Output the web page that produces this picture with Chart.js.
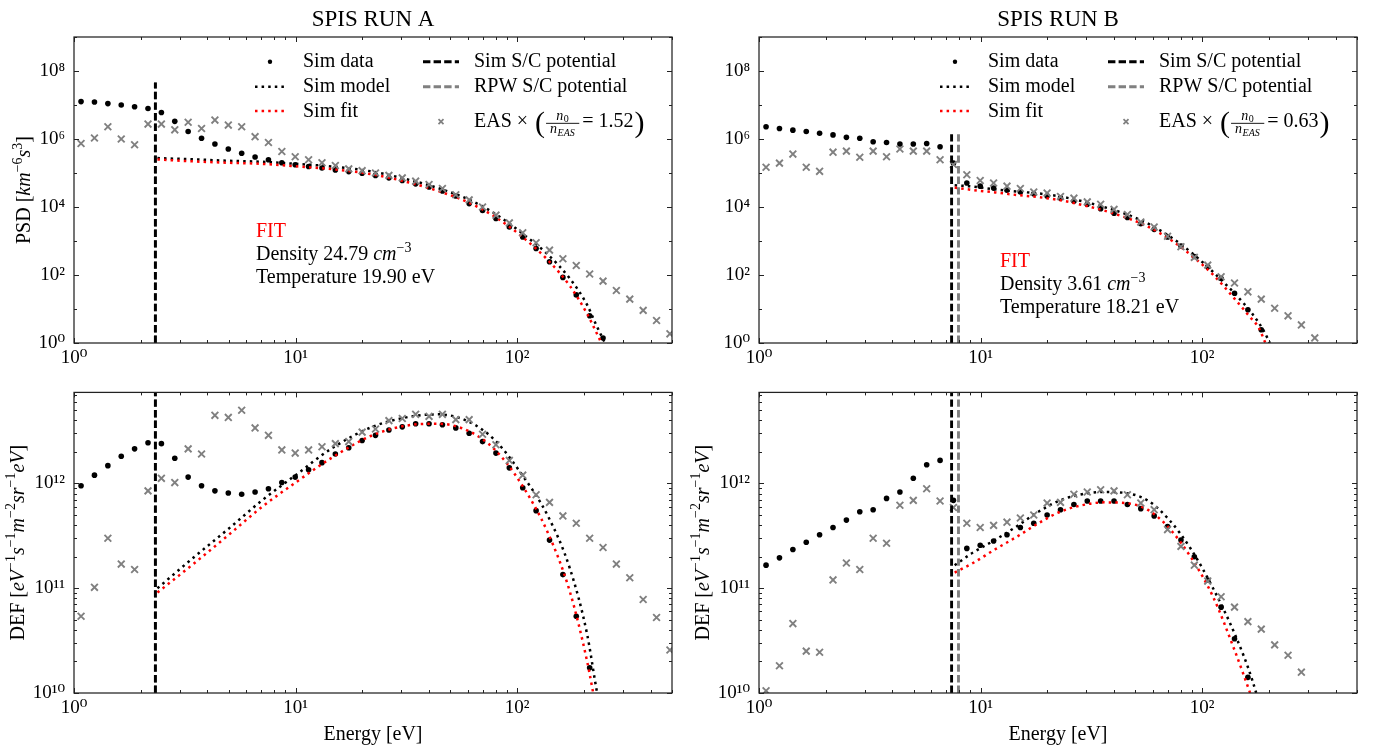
<!DOCTYPE html>
<html>
<head>
<meta charset="utf-8">
<title>SPIS runs</title>
<script src="https://cdn.jsdelivr.net/npm/chart.js@4.4.1/dist/chart.umd.min.js"></script>
<style>
  html, body { margin: 0; padding: 0; background: #fff; }
  #wrap { position: relative; width: 1374px; height: 747px; }
  canvas { position: absolute; }
</style>
</head>
<body>
<div id="wrap">
  <canvas id="aTop" width="690" height="372" style="left:0px;top:0px"></canvas>
  <canvas id="aBot" width="690" height="375" style="left:0px;top:372px"></canvas>
  <canvas id="bTop" width="684" height="372" style="left:690px;top:0px"></canvas>
  <canvas id="bBot" width="684" height="375" style="left:690px;top:372px"></canvas>
</div>
<script>
// energy bins [eV] shared by sim data and EAS
const energy = [1.076, 1.237, 1.422, 1.634, 1.877, 2.158, 2.480, 2.850, 3.275, 3.764,
  4.325, 4.971, 5.712, 6.565, 7.544, 8.670, 9.963, 11.45, 13.16, 15.12,
  17.38, 19.97, 22.95, 26.38, 30.31, 34.83, 40.03, 46.00, 52.87, 60.75,
  69.82, 80.24, 92.22, 106.0, 121.8, 140.0, 160.9, 184.9, 212.5, 244.2,
  280.5, 322.4, 370.6, 425.8, 489.4];

// ---- run A ----
const simPsdA = [1.26e7, 1.23e7, 1.10e7, 1.00e7, 8.9e6, 7.9e6, 6.0e6, 3.3e6, 1.66e6, 1.05e6,
  7.1e5, 5.1e5, 3.8e5, 2.95e5, 2.45e5, 2.0e5, 1.74e5, 1.55e5, 1.41e5, 1.23e5,
  1.10e5, 9.8e4, 8.5e4, 7.2e4, 6.0e4, 4.8e4, 3.9e4, 2.95e4, 2.1e4, 1.26e4,
  7.9e3, 4.6e3, 2.6e3, 1.32e3, 600, 245, 85, 26, 6.3, 1.4];
const simDefA = [9.5e11, 1.20e12, 1.48e12, 1.82e12, 2.14e12, 2.45e12, 2.40e12, 1.74e12, 1.15e12, 9.5e11,
  8.5e11, 8.1e11, 7.9e11, 8.3e11, 8.9e11, 1.02e12, 1.15e12, 1.35e12, 1.58e12, 1.91e12,
  2.19e12, 2.57e12, 2.88e12, 3.24e12, 3.47e12, 3.72e12, 3.72e12, 3.63e12, 3.39e12, 3.02e12,
  2.51e12, 1.95e12, 1.41e12, 9.1e11, 5.5e11, 2.88e11, 1.35e11, 5.4e10, 1.74e10];
const easPsdA = [7.4e5, 1.07e6, 2.3e6, 1.0e6, 6.8e5, 2.75e6, 2.75e6, 1.86e6, 3.1e6, 2.04e6,
  3.6e6, 2.57e6, 2.3e6, 1.17e6, 7.9e5, 4.3e5, 3.0e5, 2.45e5, 2.0e5, 1.66e5,
  1.32e5, 1.17e5, 1.0e5, 8.5e4, 7.2e4, 5.75e4, 4.6e4, 3.5e4, 2.3e4, 1.62e4,
  1.0e4, 5.75e3, 3.4e3, 1.74e3, 890, 540, 300, 190, 107, 66,
  35, 19.5, 9.1, 4.6, 1.86];
const easDefA = [5.4e10, 1.02e11, 3.0e11, 1.70e11, 1.51e11, 8.5e11, 1.12e12, 1.02e12, 2.14e12, 1.91e12,
  4.47e12, 4.27e12, 5.0e12, 3.39e12, 2.88e12, 2.09e12, 1.95e12, 2.09e12, 2.24e12, 2.40e12,
  2.51e12, 3.09e12, 3.31e12, 3.98e12, 4.17e12, 4.57e12, 4.37e12, 4.57e12, 4.07e12, 4.07e12,
  2.95e12, 2.34e12, 1.66e12, 1.20e12, 7.8e11, 6.6e11, 4.9e11, 4.17e11, 3.0e11, 2.45e11,
  1.70e11, 1.26e11, 7.8e10, 5.25e10, 2.57e10];
const modelEA = [2.38, 3.5, 5.0, 7.0, 10, 14.7, 22.2, 33.5, 44, 60.5, 79.6, 104.7, 137.6, 172.9, 207, 227, 249];
const modelPsdA = [2.75e5, 2.51e5, 2.29e5, 2.14e5, 1.86e5, 1.55e5, 1.10e5, 6.0e4, 3.6e4, 1.66e4, 6.3e3, 1.74e3, 400, 79, 13.2, 3.5, 1.0];
const modelDefA = [1.0e11, 2.0e11, 3.72e11, 6.8e11, 1.20e12, 2.19e12, 3.47e12, 4.37e12, 4.57e12, 3.89e12, 2.57e12, 1.23e12, 4.9e11, 1.55e11, 3.63e10, 1.15e10, 4.0e9];
const fitEA = [2.38, 3.5, 5.0, 7.0, 10, 14.7, 22.2, 33.5, 44, 60.5, 79.6, 104.7, 137.6, 172.9, 207, 227, 240];
const fitPsdA = [2.51e5, 2.19e5, 2.0e5, 1.86e5, 1.58e5, 1.29e5, 9.1e4, 5.0e4, 2.95e4, 1.35e4, 5.1e3, 1.38e3, 275, 48, 7.2, 2.14, 1.0];
const fitDefA = [9.1e10, 1.74e11, 3.24e11, 5.9e11, 1.02e12, 1.78e12, 2.88e12, 3.63e12, 3.72e12, 3.16e12, 2.09e12, 9.8e11, 3.39e11, 9.3e10, 2.0e10, 7.1e9, 3.7e9];
const simPotA = 2.33, rpwPotA = 2.33;

// ---- run B ----
const simPsdB = [2.3e6, 2.04e6, 1.82e6, 1.66e6, 1.48e6, 1.32e6, 1.12e6, 1.05e6, 8.3e5, 7.9e5,
  7.1e5, 7.1e5, 7.4e5, 5.9e5, 1.95e5, 5.1e4, 4.1e4, 3.6e4, 3.1e4, 2.75e4,
  2.45e4, 2.1e4, 1.82e4, 1.48e4, 1.20e4, 8.9e3, 6.6e3, 4.9e3, 3.2e3, 2.2e3,
  1.32e3, 710, 350, 174, 79, 29, 9.5, 2.45];
const simDefB = [1.66e11, 1.95e11, 2.34e11, 2.75e11, 3.24e11, 3.80e11, 4.47e11, 5.37e11, 5.62e11, 7.2e11,
  8.3e11, 1.12e12, 1.51e12, 1.66e12, 6.9e11, 2.40e11, 2.57e11, 2.82e11, 3.24e11, 3.80e11,
  4.17e11, 5.0e11, 5.62e11, 6.3e11, 6.8e11, 6.8e11, 6.8e11, 6.3e11, 5.75e11, 4.9e11,
  3.89e11, 2.88e11, 2.0e11, 1.20e11, 6.6e10, 3.3e10, 1.41e10];
const easPsdB = [1.48e5, 1.95e5, 3.6e5, 1.48e5, 1.12e5, 4.1e5, 4.4e5, 2.9e5, 4.4e5, 3.0e5,
  5.1e5, 4.4e5, 4.4e5, 2.45e5, 1.78e5, 8.9e4, 6.0e4, 5.1e4, 4.1e4, 3.5e4,
  2.75e4, 2.57e4, 2.04e4, 1.82e4, 1.41e4, 1.20e4, 8.5e3, 6.0e3, 3.6e3, 2.57e3,
  1.38e3, 680, 330, 195, 89, 58, 32, 19.5, 10.5, 6.3,
  3.4, 1.41];
const easDefB = [1.05e10, 1.82e10, 4.6e10, 2.51e10, 2.45e10, 1.20e11, 1.74e11, 1.51e11, 3.0e11, 2.69e11,
  6.2e11, 6.9e11, 8.9e11, 6.8e11, 5.9e11, 4.17e11, 3.80e11, 3.98e11, 4.27e11, 4.68e11,
  5.0e11, 6.5e11, 6.6e11, 7.9e11, 8.3e11, 8.7e11, 8.5e11, 7.8e11, 6.5e11, 5.62e11,
  3.63e11, 2.51e11, 1.66e11, 1.17e11, 8.3e10, 6.6e10, 4.8e10, 4.07e10, 2.88e10, 2.29e10,
  1.58e10];
const modelEB = [7.64, 9.24, 11.59, 14.54, 18.24, 22.89, 28.71, 36.04, 45.2, 56.7, 71.2, 89.3, 112, 140.6, 168.5, 190, 202];
const modelPsdB = [4.37e4, 3.98e4, 3.31e4, 2.85e4, 2.51e4, 2.04e4, 1.48e4, 1.0e4, 6.2e3, 3.3e3, 1.38e3, 460, 123, 28, 7.2, 2.24, 1.0];
const modelDefB = [1.66e11, 2.19e11, 2.88e11, 3.89e11, 5.37e11, 6.9e11, 7.9e11, 8.3e11, 8.1e11, 6.9e11, 4.47e11, 2.34e11, 1.0e11, 3.63e10, 1.32e10, 5.2e9, 2.6e9];
const fitEB = [7.64, 9.24, 11.59, 14.54, 18.24, 22.89, 28.71, 36.04, 45.2, 56.7, 71.2, 89.3, 112, 140.6, 164.7, 180, 193];
const fitPsdB = [3.72e4, 3.16e4, 2.69e4, 2.26e4, 1.95e4, 1.58e4, 1.15e4, 7.9e3, 4.9e3, 2.69e3, 1.14e3, 380, 102, 19.5, 5.75, 2.82, 1.0];
const fitDefB = [1.41e11, 1.74e11, 2.34e11, 3.09e11, 4.17e11, 5.37e11, 6.2e11, 6.6e11, 6.5e11, 5.62e11, 3.72e11, 1.95e11, 8.3e10, 2.51e10, 1.0e10, 5.9e9, 2.4e9];
const simPotB = 7.40, rpwPotB = 7.95;

// axis ticks
const xMajor = [1, 10, 100];
const xMinor = [2, 3, 4, 5, 6, 7, 8, 9, 20, 30, 40, 50, 60, 70, 80, 90, 200, 300, 400, 500];
const psdMajor = [1, 1e2, 1e4, 1e6, 1e8];
const psdMinor = [1e1, 1e3, 1e5, 1e7, 1e9];
const defMajor = [1e10, 1e11, 1e12];
const defMinor = [2e10, 3e10, 4e10, 5e10, 6e10, 7e10, 8e10, 9e10,
  2e11, 3e11, 4e11, 5e11, 6e11, 7e11, 8e11, 9e11, 2e12, 3e12, 4e12, 5e12, 6e12, 7e12];

const SERIF = '"Liberation Serif", "DejaVu Serif", serif';
const GRAY = '#808080';
Chart.defaults.font.family = SERIF;
Chart.defaults.color = '#000';

const font = (size, italic) => (italic ? 'italic ' : '') + size + 'px ' + SERIF;
const SUP = {'0':'⁰','1':'¹','2':'²','3':'³','4':'⁴','5':'⁵','6':'⁶','7':'⁷','8':'⁸','9':'⁹','-':'⁻'};
const powLabel = v => '10' + String(Math.round(Math.log10(v))).split('').map(c => SUP[c]).join('');

const pts = (xs, ys) => ys.map((v, i) => ({x: xs[i], y: v}));

const dotStyle = {showLine: false, pointStyle: 'circle', pointRadius: 2.8, pointBorderWidth: 0,
  pointBackgroundColor: '#000', borderColor: '#000', backgroundColor: '#000'};
const easStyle = {showLine: false, pointStyle: 'crossRot', pointRadius: 4.8, pointBorderWidth: 1.9,
  pointBorderColor: GRAY, borderColor: GRAY, backgroundColor: GRAY};
const dotted = c => ({showLine: true, borderColor: c, borderWidth: 2.5, borderDash: [2.5, 4.1],
  pointRadius: 0, fill: false, cubicInterpolationMode: 'monotone'});
const dashed = c => ({showLine: true, borderColor: c, borderWidth: 2.9, borderDash: [7.4, 3.2],
  pointRadius: 0, fill: false});

// rich text: parts = [[text, kind]], kind n | i | sup
function drawRich(ctx, parts, x, y, size, measureOnly) {
  let cx = x;
  for (const [t, k] of parts) {
    if (k === 'sup') {
      ctx.font = font(Math.round(size * 0.7));
      if (!measureOnly) ctx.fillText(t, cx, y - size * 0.42);
    } else {
      ctx.font = font(size, k === 'i');
      if (!measureOnly) ctx.fillText(t, cx, y);
    }
    cx += ctx.measureText(t).width;
  }
  return cx - x;
}

function drawEas(ctx, x, base, ratio) {
  ctx.font = font(20);
  let cx = x;
  ctx.fillText('EAS ×', cx, base);
  cx += ctx.measureText('EAS × ').width + 2;
  const mid = base - 4;
  ctx.font = font(30);
  ctx.fillText('(', cx, mid + 8.5);
  cx += ctx.measureText('(').width + 1;
  ctx.font = font(14, true); const wn = ctx.measureText('n').width;
  ctx.font = font(10); const w0 = ctx.measureText('0').width;
  ctx.font = font(10, true); const wE = ctx.measureText('EAS').width;
  const numW = wn + w0 + 1, denW = wn + wE + 1;
  const fw = Math.max(numW, denW) + 8;
  ctx.fillRect(cx, mid - 0.45, fw, 0.9);
  const nx = cx + (fw - numW) / 2;
  ctx.font = font(14, true); ctx.fillText('n', nx, mid - 3.5);
  ctx.font = font(10); ctx.fillText('0', nx + wn + 0.5, mid - 1.8);
  const dx = cx + (fw - denW) / 2;
  ctx.font = font(14, true); ctx.fillText('n', dx, mid + 10);
  ctx.font = font(10, true); ctx.fillText('EAS', dx + wn + 0.5, mid + 13);
  cx += fw + 3;
  ctx.font = font(20);
  const rt = '= ' + ratio;
  ctx.fillText(rt, cx, base);
  cx += ctx.measureText(rt).width + 1;
  ctx.font = font(30);
  ctx.fillText(')', cx, mid + 8.5);
}

function drawLegend(ctx, a, ratio) {
  const R = a.right, T = a.top;
  ctx.save();
  ctx.fillStyle = '#000';
  ctx.textAlign = 'left';
  ctx.textBaseline = 'alphabetic';
  // column 1
  ctx.beginPath(); ctx.arc(R - 402, T + 24.7, 2.2, 0, Math.PI * 2); ctx.fill();
  const seg = (x0, x1, y, c, dash, w) => {
    ctx.save(); ctx.strokeStyle = c; ctx.lineWidth = w; ctx.setLineDash(dash);
    ctx.beginPath(); ctx.moveTo(x0, y); ctx.lineTo(x1, y); ctx.stroke(); ctx.restore();
  };
  seg(R - 417, R - 385, T + 49.7, '#000', [2.5, 4.1], 2.5);
  seg(R - 417, R - 385, T + 74, 'red', [2.5, 4.1], 2.5);
  ctx.font = font(20);
  ctx.fillText('Sim data', R - 369, T + 30.3);
  ctx.fillText('Sim model', R - 369, T + 55.3);
  ctx.fillText('Sim fit', R - 369, T + 79.7);
  // column 2
  seg(R - 249, R - 213, T + 24.7, '#000', [7.4, 3.2], 2.9);
  seg(R - 249, R - 213, T + 49.7, GRAY, [7.4, 3.2], 2.9);
  ctx.save(); ctx.strokeStyle = GRAY; ctx.lineWidth = 1.7;
  const cx = R - 231, cy = T + 84.7, h = 2.5;
  ctx.beginPath(); ctx.moveTo(cx - h, cy - h); ctx.lineTo(cx + h, cy + h);
  ctx.moveTo(cx - h, cy + h); ctx.lineTo(cx + h, cy - h); ctx.stroke(); ctx.restore();
  ctx.font = font(20);
  ctx.fillText('Sim S/C potential', R - 198, T + 30.3);
  ctx.fillText('RPW S/C potential', R - 198, T + 55.3);
  drawEas(ctx, R - 198, T + 90.3, ratio);
  ctx.restore();
}

const decor = {
  id: 'decor',
  afterDraw(chart, args, o) {
    const {ctx, chartArea: a, scales} = chart;
    ctx.save();
    ctx.strokeStyle = '#222';
    ctx.lineWidth = 1;
    for (const t of scales.x.ticks) {
      const px = Math.round(scales.x.getPixelForValue(t.value)) + 0.5;
      const len = t.major ? 5 : 3;
      ctx.beginPath();
      ctx.moveTo(px, a.bottom); ctx.lineTo(px, a.bottom - len);
      ctx.moveTo(px, a.top); ctx.lineTo(px, a.top + len);
      ctx.stroke();
    }
    for (const t of scales.y.ticks) {
      const py = Math.round(scales.y.getPixelForValue(t.value)) + 0.5;
      const len = t.major ? 5 : 3;
      ctx.beginPath();
      ctx.moveTo(a.left, py); ctx.lineTo(a.left + len, py);
      ctx.moveTo(a.right, py); ctx.lineTo(a.right - len, py);
      ctx.stroke();
    }
    ctx.lineWidth = 1.25;
    ctx.strokeRect(a.left, a.top, a.right - a.left, a.bottom - a.top);

    ctx.fillStyle = '#000';
    if (o.title) {
      ctx.font = font(23);
      ctx.textAlign = 'center';
      ctx.textBaseline = 'middle';
      ctx.fillText(o.title, (a.left + a.right) / 2, 19.5);
    }
    ctx.textAlign = 'left';
    ctx.textBaseline = 'alphabetic';
    if (o.yTitle) {
      ctx.save();
      ctx.translate(a.left - o.yTitleGap, (a.top + a.bottom) / 2);
      ctx.rotate(-Math.PI / 2);
      const w = drawRich(ctx, o.yTitle, 0, 0, 20, true);
      drawRich(ctx, o.yTitle, -w / 2, 0, 20);
      ctx.restore();
    }
    if (o.ratio) drawLegend(ctx, a, o.ratio);
    if (o.fit) {
      const fx = a.left + o.fit.dx, fy = a.top + o.fit.dy;
      ctx.font = font(20);
      ctx.fillStyle = 'red';
      ctx.fillText('FIT', fx, fy);
      ctx.fillStyle = '#000';
      drawRich(ctx, [['Density ' + o.fit.density + ' ', 'n'], ['cm', 'i'], ['−3', 'sup']], fx, fy + 23.3, 20);
      drawRich(ctx, [['Temperature ' + o.fit.temp + ' eV', 'n']], fx, fy + 46.6, 20);
    }
    ctx.restore();
  }
};

const tickObjs = (major, minor) =>
  major.map(v => ({value: v, major: true})).concat(minor.map(v => ({value: v, major: false})))
    .sort((p, q) => p.value - q.value);

function makePanel(id, p) {
  const datasets = [
    Object.assign({label: 'Sim data', data: pts(energy, p.sim), order: 6}, dotStyle),
    Object.assign({label: 'Sim model', data: pts(p.modelE, p.model), order: 5}, dotted('#000')),
    Object.assign({label: 'Sim fit', data: pts(p.fitE, p.fit), order: 4}, dotted('red')),
    Object.assign({label: 'EAS', data: pts(energy, p.eas), order: 3}, easStyle),
    Object.assign({label: 'RPW S/C potential', order: 2,
      data: [{x: p.rpw, y: p.yMin}, {x: p.rpw, y: p.potTop}]}, dashed(GRAY)),
    Object.assign({label: 'Sim S/C potential', order: 1,
      data: [{x: p.pot, y: p.yMin}, {x: p.pot, y: p.potTop}]}, dashed('#000'))
  ];
  const tickFont = {family: SERIF, size: 19};
  return new Chart(document.getElementById(id), {
    type: 'scatter',
    data: {datasets},
    options: {
      responsive: false,
      animation: false,
      events: [],
      layout: {padding: {top: p.padTop, right: p.padRight, left: 0, bottom: 0}},
      plugins: {legend: {display: false}, tooltip: {enabled: false}, decor: p.decor},
      scales: {
        x: {
          type: 'logarithmic', position: 'bottom', min: 1, max: 500, bounds: 'data',
          grid: {display: false, drawTicks: false}, border: {display: false},
          ticks: {autoSkip: false, maxRotation: 0, padding: 4, font: tickFont, color: '#000',
            callback: (v, i, ticks) => ticks[i].major ? powLabel(v) : ''},
          afterBuildTicks: s => { s.ticks = tickObjs(xMajor, xMinor); },
          afterFit: s => { s.height = p.xHeight; },
          title: {display: !!p.xTitle, text: 'Energy [eV]', font: {family: SERIF, size: 20},
            color: '#000', padding: {top: 0, bottom: 0}}
        },
        y: {
          type: 'logarithmic', position: 'left', min: p.yMin, max: p.yMax, bounds: 'data',
          grid: {display: false, drawTicks: false}, border: {display: false},
          ticks: {autoSkip: false, padding: 9, font: tickFont, color: '#000',
            callback: (v, i, ticks) => ticks[i].major ? powLabel(v) : ''},
          afterBuildTicks: s => { s.ticks = tickObjs(p.yMajor, p.yMinor); },
          afterFit: s => { s.width = p.yWidth; }
        }
      }
    },
    plugins: [decor]
  });
}

const psdTitle = [['PSD [', 'n'], ['km', 'i'], ['−6', 'sup'], ['s', 'i'], ['3', 'sup'], [']', 'n']];
const defTitle = [['DEF [', 'n'], ['eV', 'i'], ['−1', 'sup'], ['s', 'i'], ['−1', 'sup'], ['m', 'i'],
  ['−2', 'sup'], ['sr', 'i'], ['−1', 'sup'], ['eV', 'i'], [']', 'n']];

makePanel('aTop', {
  sim: simPsdA, eas: easPsdA, modelE: modelEA, model: modelPsdA, fitE: fitEA, fit: fitPsdA,
  pot: simPotA, rpw: rpwPotA, potTop: 4.6e7, yMin: 1, yMax: 1e9, yMajor: psdMajor, yMinor: psdMinor,
  padTop: 37, padRight: 18, yWidth: 74, xHeight: 29, xTitle: false,
  decor: {title: 'SPIS RUN A', yTitle: psdTitle, yTitleGap: 44, ratio: '1.52',
    fit: {dx: 182, dy: 199.6, density: '24.79', temp: '19.90'}}
});
makePanel('aBot', {
  sim: simDefA, eas: easDefA, modelE: modelEA, model: modelDefA, fitE: fitEA, fit: fitDefA,
  pot: simPotA, rpw: rpwPotA, potTop: 1e13, yMin: 1e10, yMax: 7.4e12, yMajor: defMajor, yMinor: defMinor,
  padTop: 15, padRight: 18, yWidth: 74, xHeight: 54, xTitle: true,
  decor: {yTitle: defTitle, yTitleGap: 50.5}
});
makePanel('bTop', {
  sim: simPsdB, eas: easPsdB, modelE: modelEB, model: modelPsdB, fitE: fitEB, fit: fitPsdB,
  pot: simPotB, rpw: rpwPotB, potTop: 1.7e6, yMin: 1, yMax: 1e9, yMajor: psdMajor, yMinor: psdMinor,
  padTop: 37, padRight: 17, yWidth: 69, xHeight: 29, xTitle: false,
  decor: {title: 'SPIS RUN B', ratio: '0.63',
    fit: {dx: 241, dy: 229.6, density: '3.61', temp: '18.21'}}
});
makePanel('bBot', {
  sim: simDefB, eas: easDefB, modelE: modelEB, model: modelDefB, fitE: fitEB, fit: fitDefB,
  pot: simPotB, rpw: rpwPotB, potTop: 1e13, yMin: 1e10, yMax: 7.4e12, yMajor: defMajor, yMinor: defMinor,
  padTop: 15, padRight: 17, yWidth: 69, xHeight: 54, xTitle: true,
  decor: {yTitle: defTitle, yTitleGap: 50.5}
});
</script>
</body>
</html>
